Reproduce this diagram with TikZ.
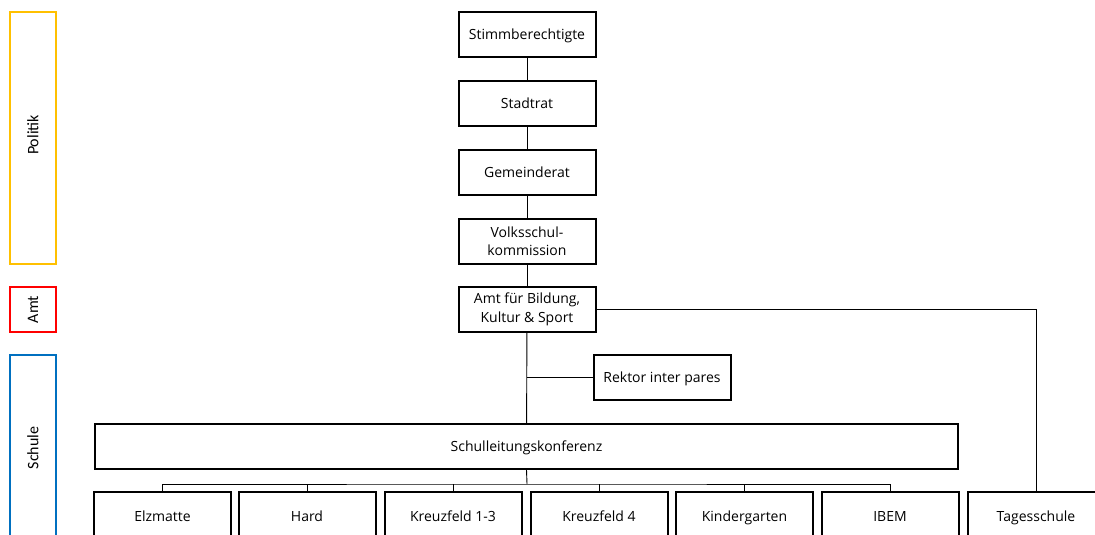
\documentclass[tikz,border=0pt]{standalone}
\usepackage{fontspec}
\setmainfont{Open Sans}
\newfontfamily\calfont{Carlito}
\definecolor{polc}{HTML}{FFC000}
\definecolor{amtc}{HTML}{FF0000}
\definecolor{schc}{HTML}{0070C0}
\begin{document}
\begin{tikzpicture}[x=1pt,y=-1pt,
  box/.style={draw=black,line width=2pt,minimum width=137pt,minimum height=45pt,inner sep=0pt,align=center,font=\fontsize{14}{18.5}\selectfont},
  oneline/.style={text height=10.5pt,text depth=1pt},
  side/.style={line width=2pt,minimum width=46pt,inner sep=0pt},
  sidelabel/.style={rotate=90,font=\calfont\fontsize{16}{18}\selectfont},
  conn/.style={line width=0.9pt}]
\useasboundingbox (0,0) rectangle (1095,535);
\clip (0,0) rectangle (1095,535);
% side bars
\node[side,draw=polc,minimum height=252pt] (pol) at (33,138) {};
\node[sidelabel] at (33,135) {Politik};
\node[side,draw=amtc,minimum height=45pt] (amt) at (33,309.5) {};
\node[sidelabel] at (amt.center) {Amt};
\node[side,draw=schc,minimum height=200pt] (sch) at (33,455) {};
\node[sidelabel] at (33,448) {Schule};
% main column
\node[box,oneline] (stimm) at (527,34.5) {Stimmberechtigte};
\node[box,oneline] (stadt) at (527,103.5) {Stadtrat};
\node[box,oneline] (gem) at (527,172.5) {Gemeinderat};
\node[box] (vsk) at (527,241) {Volksschul-\\kommission};
\node[box] (abks) at (527,309.5) {Amt für Bildung,\\Kultur \& Sport};
\node[box,oneline] (rek) at (662,377.5) {Rektor inter pares};
\node[box,oneline,minimum width=863pt] (slk) at (526.5,446.5) {Schulleitungskonferenz};
% bottom row
\tikzset{bottom/.style={box,oneline,minimum height=50pt}}
\node[bottom] (elz) at (162.5,517) {Elzmatte};
\node[bottom] (hard) at (307,517) {Hard};
\node[bottom] (k13) at (453,517) {Kreuzfeld 1-3};
\node[bottom] (k4) at (599,517) {Kreuzfeld 4};
\node[bottom] (kg) at (744.5,517) {Kindergarten};
\node[bottom] (ibem) at (890,517) {IBEM};
\node[bottom] (tag) at (1036,517) {Tagesschule};
% connectors
\draw[conn] (stimm) -- (stadt);
\draw[conn] (stadt) -- (gem);
\draw[conn] (gem) -- (vsk);
\draw[conn] (vsk) -- (abks);
\draw[conn] (abks) -- (slk);
\draw[conn] (abks.south |- rek.west) -- (rek.west);
\draw[conn] (abks.east) -| (tag.north);
\coordinate (bus) at (527,484);
\draw[conn] (slk.south) -- (bus);
\draw[conn] (elz.north) |- (bus) -| (ibem.north);
\draw[conn] (hard.north) -- (hard.north |- bus);
\draw[conn] (k13.north) -- (k13.north |- bus);
\draw[conn] (k4.north) -- (k4.north |- bus);
\draw[conn] (kg.north) -- (kg.north |- bus);
\end{tikzpicture}
\end{document}
